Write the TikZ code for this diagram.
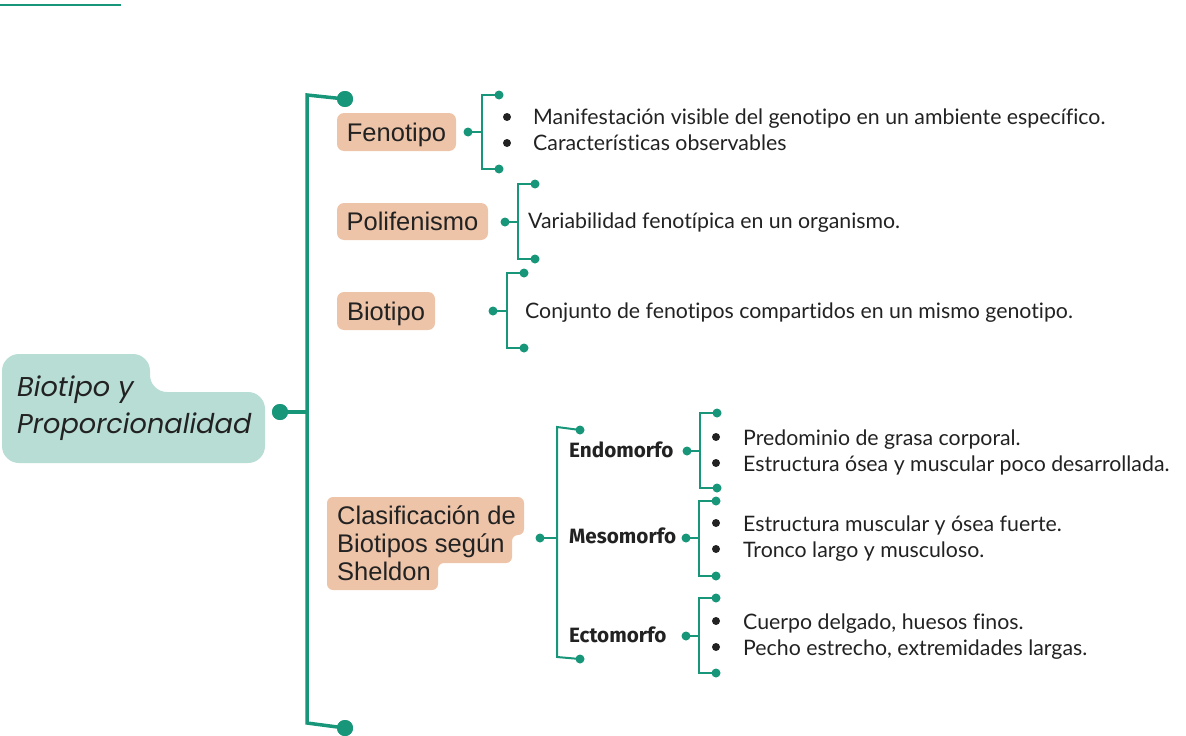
\documentclass[tikz,border=0pt]{standalone}
\usepackage{fontspec}
\setmainfont{Liberation Sans}
\newfontfamily\descfont[RawFeature=-liga]{Lato}
\newfontfamily\boxfont{Liberation Sans}
\newfontfamily\subfont{Fira Sans}
\newfontfamily\centfont{Poppins}
\definecolor{tealc}{HTML}{18967A}
\definecolor{peach}{HTML}{EEC4A9}
\definecolor{centc}{HTML}{B7DDD4}
\definecolor{textc}{HTML}{222222}
\tikzset{
  ln/.style={draw=tealc, line width=2pt},
  mainln/.style={draw=tealc, line width=3.5pt},
  sdot/.style={circle, fill=tealc, inner sep=0pt, minimum size=9pt},
  bdot/.style={circle, fill=tealc, inner sep=0pt, minimum size=16pt},
  bul/.style={circle, fill=textc, inner sep=0pt, minimum size=8pt},
  pbox/.style={fill=peach, rounded corners=7pt, inner sep=0pt, text=textc, text height=18.3pt, text depth=0pt, font=\boxfont\fontsize{25.5}{28}\selectfont},
  btext/.style={anchor=base west, inner sep=0pt, text=textc, font=\boxfont\fontsize{25.5}{28}\selectfont},
  ctext/.style={anchor=base west, inner sep=0pt, text=textc, font=\centfont\itshape\fontsize{27.2}{37}\selectfont},
  desc/.style={anchor=west, inner sep=0pt, text=textc, text height=15.3pt, text depth=0pt, font=\descfont\fontsize{21.3}{24}\selectfont},
  subl/.style={anchor=west, inner sep=0pt, text=textc, text height=14.3pt, text depth=0pt, font=\subfont\bfseries\fontsize{20.7}{24}\selectfont},
}
\begin{document}
\begin{tikzpicture}[x=1pt,y=-1pt]
\useasboundingbox (0,0) rectangle (1186,736);
% top-left rule
\coordinate (tl1) at (0,4.5);
\coordinate (tl2) at (121,4.5);
\draw[tealc, line width=2pt] (tl1) -- (tl2);

% central node
\fill[centc, rounded corners=17pt] (2,354) -- (150,354) -- (150,392) -- (265,392) -- (265,463) -- (2,463) -- cycle;
\node[ctext] (cent1) at (17,396.7) {Biotipo y};
\node[ctext] (cent2) at (17,433.3) {Proporcionalidad};

% main bracket
\coordinate (mtop) at (307,95);
\coordinate (mbot) at (307,723);
\coordinate (mmid) at (307,412);
\node[bdot] (cdot) at (280,412) {};
\node[bdot] (tdot) at (345,99) {};
\node[bdot] (bdot2) at (345,728) {};
\draw[mainln] (tdot.center) -- (mtop) -- (mbot) -- (bdot2.center);
\draw[mainln] (cdot.center) -- (mmid);
\node[bdot] at (cdot) {};
\node[bdot] at (tdot) {};
\node[bdot] at (bdot2) {};

% ---------- Fenotipo
\node[pbox, minimum width=119pt, minimum height=38pt] (feno) at (396.5,132) {Fenotipo};
\node[sdot] (fd) at (468,132) {};
\coordinate (fv) at (482,132);
\node[sdot] (ft) at (499,95) {};
\node[sdot] (fb) at (499,169) {};
\draw[ln] (fd.center) -- (fv);
\draw[ln] (ft.center) -- (ft.center -| fv) -- (fb.center -| fv) -- (fb.center);
\node[bul] (fb1) at (507,117) {};
\node[bul] (fb2) at (507,143) {};
\node[desc] (ft1) at (533,117) {Manifestación visible del genotipo en un ambiente específico.};
\node[desc] (ft2) at (533,143) {Características observables};

% ---------- Polifenismo
\node[pbox, minimum width=151pt, minimum height=37pt] (poli) at (412.5,221.5) {Polifenismo};
\node[sdot] (pd) at (505,222) {};
\coordinate (pv) at (518,222);
\node[sdot] (pt) at (535,184) {};
\node[sdot] (pb) at (535,259) {};
\draw[ln] (pd.center) -- (pv);
\draw[ln] (pt.center) -- (pt.center -| pv) -- (pb.center -| pv) -- (pb.center);
\node[desc] (pt1) at (528,221) {Variabilidad fenotípica en un organismo.};

% ---------- Biotipo
\node[pbox, minimum width=98pt, minimum height=38pt] (bio) at (386,311) {Biotipo};
\node[sdot] (bd) at (493,311) {};
\coordinate (bv) at (507,311);
\node[sdot] (bt) at (524,273) {};
\node[sdot] (bb) at (524,348) {};
\draw[ln] (bd.center) -- (bv);
\draw[ln] (bt.center) -- (bt.center -| bv) -- (bb.center -| bv) -- (bb.center);
\node[desc] (bt1) at (525,311) {Conjunto de fenotipos compartidos en un mismo genotipo.};

% ---------- Clasificación
\fill[peach, rounded corners=6pt] (327,497) -- (524,497) -- (524,535) -- (512,535) -- (512,563) -- (438,563) -- (438,590) -- (327,590) -- cycle;
\node[btext] (clas1) at (337,524) {Clasificación de};
\node[btext] (clas2) at (337,552) {Biotipos según};
\node[btext] (clas3) at (337,580) {Sheldon};
\node[sdot] (cd) at (540,538) {};
\coordinate (cv) at (557,538);
\coordinate (cvt) at (557,427);
\coordinate (cvb) at (557,657);
\node[sdot] (ct) at (580,430) {};
\node[sdot] (cb) at (580,659) {};
\draw[ln] (cd.center) -- (cv);
\draw[ln] (ct.center) -- (cvt) -- (cvb) -- (cb.center);

% Endomorfo
\node[subl] (endo) at (569,450.5) {Endomorfo};
\node[sdot] (ed) at (687,451) {};
\coordinate (ev) at (700,451);
\node[sdot] (et) at (717,413) {};
\node[sdot] (eb) at (717,488) {};
\draw[ln] (ed.center) -- (ev);
\draw[ln] (et.center) -- (et.center -| ev) -- (eb.center -| ev) -- (eb.center);
\node[bul] (eb1) at (716,437) {};
\node[bul] (eb2) at (716,463) {};
\node[desc] (et1) at (743,438) {Predominio de grasa corporal.};
\node[desc] (et2) at (743,464) {Estructura ósea y muscular poco desarrollada.};

% Mesomorfo
\node[subl] (meso) at (569,536.5) {Mesomorfo};
\node[sdot] (md) at (686,538) {};
\coordinate (mv) at (699,538);
\node[sdot] (mt) at (716,501) {};
\node[sdot] (mb) at (716,576) {};
\draw[ln] (md.center) -- (mv);
\draw[ln] (mt.center) -- (mt.center -| mv) -- (mb.center -| mv) -- (mb.center);
\node[bul] (mb1) at (716,523) {};
\node[bul] (mb2) at (716,549) {};
\node[desc] (mt1) at (743,524) {Estructura muscular y ósea fuerte.};
\node[desc] (mt2) at (743,550) {Tronco largo y musculoso.};

% Ectomorfo
\node[subl] (ecto) at (569,635) {Ectomorfo};
\node[sdot] (xd) at (686,636) {};
\coordinate (xv) at (699,636);
\node[sdot] (xt) at (716,598) {};
\node[sdot] (xb) at (716,673) {};
\draw[ln] (xd.center) -- (xv);
\draw[ln] (xt.center) -- (xt.center -| xv) -- (xb.center -| xv) -- (xb.center);
\node[bul] (xb1) at (716,621) {};
\node[bul] (xb2) at (716,647) {};
\node[desc] (xt1) at (743,622) {Cuerpo delgado, huesos finos.};
\node[desc] (xt2) at (743,648) {Pecho estrecho, extremidades largas.};
\end{tikzpicture}
\end{document}
